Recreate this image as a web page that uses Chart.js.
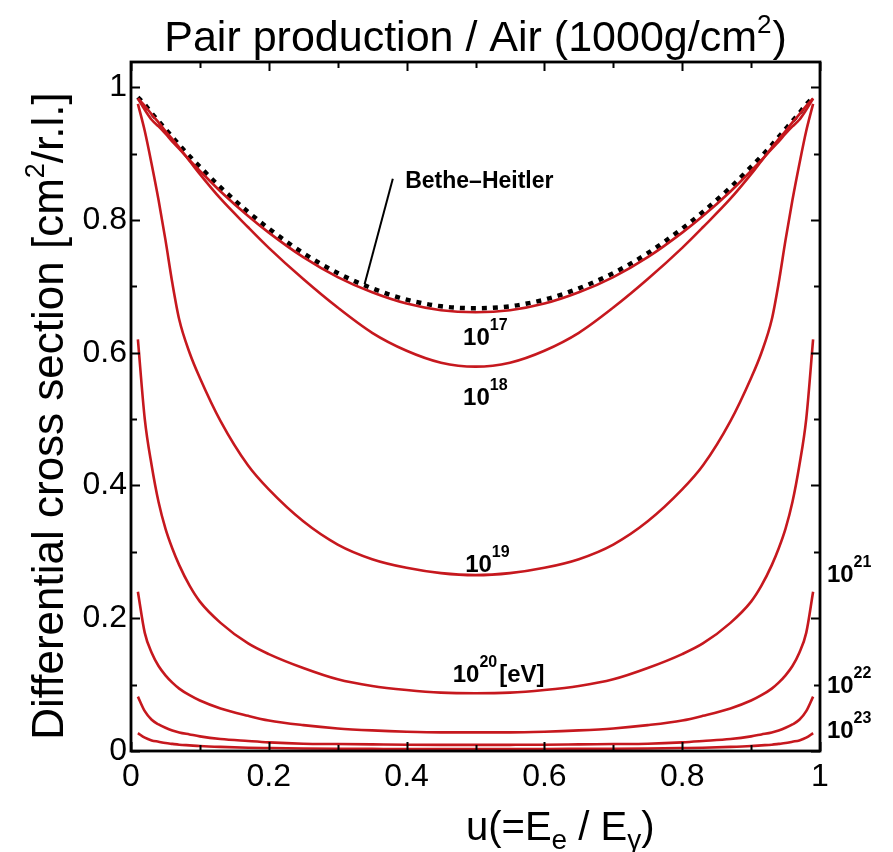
<!DOCTYPE html>
<html>
<head>
<meta charset="utf-8">
<script src="https://cdn.jsdelivr.net/npm/chart.js@4/dist/chart.umd.min.js"></script>
<style>
  html, body { margin: 0; padding: 0; background: #fff; }
  #wrap { width: 893px; height: 852px; }
</style>
</head>
<body>
<div id="wrap"><canvas id="c" width="893" height="852"></canvas></div>
<script>
// Energy fraction carried by the electron, u = Ee / Eγ
const u = [0.01, 0.02, 0.03, 0.04, 0.05, 0.06, 0.07, 0.085, 0.10, 0.13, 0.17, 0.20, 0.25, 0.30, 0.35, 0.40, 0.45, 0.50,
           0.55, 0.60, 0.65, 0.70, 0.75, 0.80, 0.83, 0.87, 0.90, 0.915, 0.93, 0.94, 0.95, 0.96, 0.97, 0.98, 0.99];

// Differential cross section [cm^2/r.l.] — Bethe-Heitler and LPM-suppressed curves
const betheHeitler = [0.985, 0.974, 0.961, 0.949, 0.937, 0.925, 0.913, 0.896, 0.880, 0.849, 0.812, 0.787, 0.750, 0.720, 0.697, 0.680, 0.670, 0.667,
                      0.670, 0.680, 0.697, 0.720, 0.750, 0.787, 0.812, 0.849, 0.880, 0.896, 0.913, 0.925, 0.937, 0.949, 0.961, 0.974, 0.985];
const e17 = [0.983, 0.966, 0.951, 0.941, 0.930, 0.918, 0.907, 0.890, 0.874, 0.843, 0.806, 0.781, 0.744, 0.714, 0.691, 0.674, 0.664, 0.661,
             0.664, 0.674, 0.691, 0.714, 0.744, 0.781, 0.806, 0.843, 0.874, 0.890, 0.907, 0.918, 0.930, 0.941, 0.951, 0.966, 0.983];
const e18 = [0.983, 0.972, 0.959, 0.947, 0.934, 0.922, 0.909, 0.889, 0.869, 0.832, 0.789, 0.758, 0.711, 0.668, 0.630, 0.603, 0.585, 0.579,
             0.585, 0.603, 0.630, 0.668, 0.711, 0.758, 0.789, 0.832, 0.869, 0.889, 0.909, 0.922, 0.934, 0.947, 0.959, 0.972, 0.983];
const e19 = [0.975, 0.934, 0.884, 0.830, 0.770, 0.705, 0.650, 0.600, 0.562, 0.497, 0.430, 0.394, 0.346, 0.311, 0.289, 0.276, 0.268, 0.265,
             0.268, 0.276, 0.289, 0.311, 0.346, 0.394, 0.430, 0.497, 0.562, 0.600, 0.650, 0.705, 0.770, 0.830, 0.884, 0.934, 0.975];
const e20 = [0.620, 0.500, 0.430, 0.375, 0.335, 0.305, 0.280, 0.249, 0.225, 0.193, 0.162, 0.146, 0.125, 0.108, 0.098, 0.092, 0.088, 0.087,
             0.088, 0.092, 0.098, 0.108, 0.125, 0.146, 0.162, 0.193, 0.225, 0.249, 0.280, 0.305, 0.335, 0.375, 0.430, 0.500, 0.620];
const e21 = [0.240, 0.178, 0.148, 0.128, 0.114, 0.103, 0.094, 0.084, 0.076, 0.064, 0.053, 0.046, 0.039, 0.034, 0.031, 0.029, 0.028, 0.028,
             0.028, 0.029, 0.031, 0.034, 0.039, 0.046, 0.053, 0.064, 0.076, 0.084, 0.094, 0.103, 0.114, 0.128, 0.148, 0.178, 0.240];
const e22 = [0.082, 0.060, 0.047, 0.040, 0.035, 0.031, 0.028, 0.025, 0.022, 0.018, 0.015, 0.013, 0.011, 0.0105, 0.010, 0.0095, 0.0093, 0.0092,
             0.0093, 0.0095, 0.010, 0.0105, 0.011, 0.013, 0.015, 0.018, 0.022, 0.025, 0.028, 0.031, 0.035, 0.040, 0.047, 0.060, 0.082];
const e23 = [0.027, 0.020, 0.016, 0.014, 0.012, 0.0107, 0.0095, 0.0085, 0.0075, 0.0062, 0.005, 0.0045, 0.0038, 0.0034, 0.0032, 0.003, 0.003, 0.003,
             0.003, 0.003, 0.0032, 0.0034, 0.0038, 0.0045, 0.005, 0.0062, 0.0075, 0.0085, 0.0095, 0.0107, 0.012, 0.014, 0.016, 0.020, 0.027];

const lpmCurves = [e17, e18, e19, e20, e21, e22, e23];
const energyExponents = ['17', '18', '19', '20', '21', '22', '23'];

// Axis ticks (major carry labels, minor are marks only)
const xMajorTicks = [0, 0.2, 0.4, 0.6, 0.8, 1];
const yMajorTicks = [0, 0.2, 0.4, 0.6, 0.8, 1];
const minorTicks = [0.1, 0.3, 0.5, 0.7, 0.9];

// Leader line from the Bethe-Heitler label to its curve (data units)
const leaderU = [0.380, 0.339];
const leaderV = [0.862, 0.703];

// Curve labels: anchor (u, value) at the left baseline of "10"
const curveLabels = [
  { exp: '17', tail: '',     u: 0.482, v: 0.611 },
  { exp: '18', tail: '',     u: 0.482, v: 0.521 },
  { exp: '19', tail: '',     u: 0.485, v: 0.270 },
  { exp: '20', tail: '[eV]', u: 0.467, v: 0.104 },
  { exp: '21', tail: '',     u: 1.010, v: 0.2545 },
  { exp: '22', tail: '',     u: 1.010, v: 0.0873 },
  { exp: '23', tail: '',     u: 1.010, v: 0.0196 }
];
const bhLabel = { text: 'Bethe\u2013Heitler', u: 0.398, v: 0.848 };

const FAMILY = "'Liberation Sans', Arial, Helvetica, sans-serif";
const RED = 'rgb(198,24,30)';

const toPoints = vals => u.map((x, i) => ({ x: x, y: vals[i] }));

const datasets = lpmCurves.map((vals, i) => ({
  label: '10^' + energyExponents[i] + ' eV',
  data: toPoints(vals),
  borderColor: RED,
  borderWidth: 2.6,
  pointRadius: 0,
  cubicInterpolationMode: 'monotone'
}));
datasets.push({
  label: 'Bethe-Heitler',
  data: toPoints(betheHeitler),
  borderColor: '#000',
  borderWidth: 4.5,
  borderDash: [5, 6],
  borderCapStyle: 'butt',
  pointRadius: 0,
  cubicInterpolationMode: 'monotone'
});
datasets.push({
  label: 'leader',
  data: leaderU.map((x, i) => ({ x: x, y: leaderV[i] })),
  borderColor: '#000',
  borderWidth: 2,
  pointRadius: 0,
  clip: false
});

// Draws a run of text pieces (with raised/lowered pieces) starting at x, baseline y
function richWidth(ctx, parts) {
  let w = 0;
  for (const p of parts) { ctx.font = p.font; w += ctx.measureText(p.text).width + (p.gap || 0); }
  return w;
}
function drawRich(ctx, parts, x, y, align) {
  let cx = x;
  if (align === 'center') cx = x - richWidth(ctx, parts) / 2;
  ctx.textAlign = 'left';
  ctx.textBaseline = 'alphabetic';
  for (const p of parts) {
    cx += (p.gap || 0);
    ctx.font = p.font;
    ctx.fillText(p.text, cx, y + (p.dy || 0));
    cx += ctx.measureText(p.text).width;
  }
}

const decor = {
  id: 'decor',
  afterDraw(chart) {
    const { ctx, chartArea: a, scales: { x, y } } = chart;
    ctx.save();
    ctx.fillStyle = '#000';
    ctx.strokeStyle = '#000';

    // inward tick marks on all four sides
    ctx.lineWidth = 2;
    ctx.beginPath();
    const xt = xMajorTicks.map(v => [v, 9]).concat(minorTicks.map(v => [v, 6]));
    for (const [v, len] of xt) {
      const px = Math.round(x.getPixelForValue(v)) + 0.5;
      ctx.moveTo(px, a.bottom); ctx.lineTo(px, a.bottom - len);
      ctx.moveTo(px, a.top); ctx.lineTo(px, a.top + len);
    }
    const yt = yMajorTicks.map(v => [v, 9]).concat(minorTicks.map(v => [v, 6]));
    for (const [v, len] of yt) {
      const py = Math.round(y.getPixelForValue(v)) + 0.5;
      ctx.moveTo(a.left, py); ctx.lineTo(a.left + len, py);
      ctx.moveTo(a.right, py); ctx.lineTo(a.right - len, py);
    }
    ctx.stroke();

    // plot frame
    ctx.lineWidth = 2.8;
    ctx.strokeRect(a.left, a.top, a.right - a.left, a.bottom - a.top);

    // chart title
    drawRich(ctx, [
      { text: 'Pair production / Air (1000g/cm', font: '43px ' + FAMILY },
      { text: '2', font: '26px ' + FAMILY, dy: -18 },
      { text: ')', font: '43px ' + FAMILY, gap: 1 }
    ], (a.left + a.right) / 2, 51, 'center');

    // y-axis title
    ctx.save();
    ctx.translate(63, 416);
    ctx.rotate(-Math.PI / 2);
    drawRich(ctx, [
      { text: 'Differential cross section [cm', font: '44px ' + FAMILY },
      { text: '2', font: '27px ' + FAMILY, dy: -19 },
      { text: '/r.l.]', font: '44px ' + FAMILY }
    ], 0, 0, 'center');
    ctx.restore();

    // x-axis title
    drawRich(ctx, [
      { text: 'u(=E', font: '40px ' + FAMILY },
      { text: 'e', font: '28px ' + FAMILY, dy: 9 },
      { text: ' / E', font: '40px ' + FAMILY },
      { text: '\u03b3', font: '28px ' + FAMILY, dy: 9 },
      { text: ')', font: '40px ' + FAMILY }
    ], 466, 840, 'left');

    // energy labels
    for (const lb of curveLabels) {
      const px = x.getPixelForValue(lb.u);
      const py = y.getPixelForValue(lb.v);
      const parts = [
        { text: '10', font: 'bold 24px ' + FAMILY },
        { text: lb.exp, font: 'bold 16px ' + FAMILY, dy: -15 }
      ];
      if (lb.tail) parts.push({ text: lb.tail, font: 'bold 24px ' + FAMILY, gap: 2 });
      drawRich(ctx, parts, px, py, 'left');
    }

    // Bethe-Heitler label
    drawRich(ctx, [{ text: bhLabel.text, font: 'bold 23px ' + FAMILY }],
      x.getPixelForValue(bhLabel.u), y.getPixelForValue(bhLabel.v), 'left');

    ctx.restore();
  }
};

Chart.defaults.font.family = FAMILY;
Chart.defaults.color = '#000';

const fmt = v => (Math.abs(v) < 1e-9 ? '0' : Math.abs(v - 1) < 1e-9 ? '1' : Number(v).toFixed(1));

new Chart(document.getElementById('c'), {
  type: 'line',
  data: { datasets: datasets },
  options: {
    responsive: false,
    animation: false,
    devicePixelRatio: 1,
    layout: { padding: { top: 62, right: 73, bottom: 0, left: 0 } },
    plugins: { legend: { display: false }, tooltip: { enabled: false }, title: { display: false } },
    scales: {
      x: {
        type: 'linear', min: 0, max: 1,
        grid: { display: false, drawTicks: false },
        border: { display: false },
        ticks: { stepSize: 0.2, padding: 7, autoSkip: false, maxRotation: 0, color: '#000',
                 font: { size: 32 }, callback: fmt },
        afterFit: s => { s.height = 101; }
      },
      y: {
        type: 'linear', min: 0, max: 1.038,
        grid: { display: false, drawTicks: false },
        border: { display: false },
        ticks: { stepSize: 0.2, includeBounds: false, padding: 4, autoSkip: false, color: '#000',
                 font: { size: 32 }, callback: fmt },
        afterFit: s => { s.width = 131; }
      }
    }
  },
  plugins: [decor]
});
</script>
</body>
</html>
